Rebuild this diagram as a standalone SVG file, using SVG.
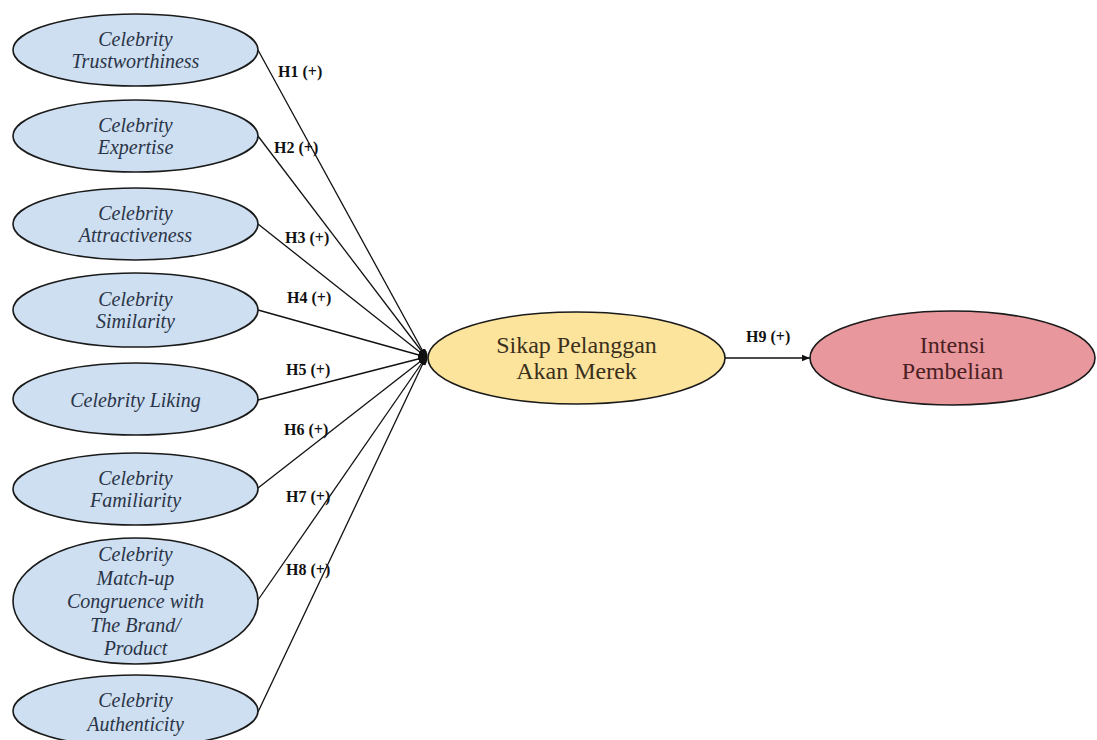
<svg xmlns="http://www.w3.org/2000/svg" width="1097" height="740" viewBox="0 0 1097 740">
<style>
.bl{fill:#cddff1;stroke:#1a1a1a;stroke-width:1.6}
.ye{fill:#fde49c;stroke:#1a1a1a;stroke-width:1.6}
.pk{fill:#e8979c;stroke:#1a1a1a;stroke-width:1.6}
.t{font-family:"Liberation Serif",serif;font-style:italic;font-size:20px;fill:#2b3447;text-anchor:middle}
.c{font-family:"Liberation Serif",serif;font-size:24px;text-anchor:middle}
.lab{font-family:"Liberation Serif",serif;font-weight:bold;font-size:16px;fill:#111}
.ln{stroke:#111;stroke-width:1.3;fill:none}
</style>
<defs>
<marker id="ah" viewBox="0 0 10 10" refX="10" refY="5" markerWidth="8" markerHeight="8" markerUnits="userSpaceOnUse" orient="auto">
<path d="M0,1 L10,5 L0,9 z" fill="#111"/>
</marker>
</defs>
<rect width="1097" height="740" fill="#ffffff"/>
<g id="connectors">
<line class="ln" x1="258" y1="50" x2="426" y2="357" marker-end="url(#ah)"/>
<line class="ln" x1="258" y1="136" x2="426" y2="357" marker-end="url(#ah)"/>
<line class="ln" x1="258" y1="224" x2="426" y2="357" marker-end="url(#ah)"/>
<line class="ln" x1="258" y1="310" x2="426" y2="357" marker-end="url(#ah)"/>
<line class="ln" x1="258" y1="400" x2="426" y2="357" marker-end="url(#ah)"/>
<line class="ln" x1="258" y1="488" x2="426" y2="357" marker-end="url(#ah)"/>
<line class="ln" x1="258" y1="600" x2="426" y2="357" marker-end="url(#ah)"/>
<line class="ln" x1="258" y1="712" x2="426" y2="357" marker-end="url(#ah)"/>
<ellipse cx="424" cy="357" rx="3.5" ry="8" fill="#111"/>
<line class="ln" x1="725" y1="358" x2="810" y2="358" marker-end="url(#ah)"/>
<text class="lab" x="278" y="77">H1 (+)</text>
<text class="lab" x="274" y="153">H2 (+)</text>
<text class="lab" x="285" y="243">H3 (+)</text>
<text class="lab" x="287" y="303">H4 (+)</text>
<text class="lab" x="286" y="375">H5 (+)</text>
<text class="lab" x="284" y="435">H6 (+)</text>
<text class="lab" x="286" y="502">H7 (+)</text>
<text class="lab" x="286" y="575">H8 (+)</text>
<text class="lab" x="746" y="342">H9 (+)</text>
</g>
<g id="n1"><ellipse class="bl" cx="135.5" cy="50" rx="122.5" ry="36"/><text class="t" x="135.5" y="46">Celebrity</text><text class="t" x="135.5" y="68">Trustworthiness</text></g>
<g id="n2"><ellipse class="bl" cx="135.5" cy="136" rx="122.5" ry="36"/><text class="t" x="135.5" y="132">Celebrity</text><text class="t" x="135.5" y="154">Expertise</text></g>
<g id="n3"><ellipse class="bl" cx="135.5" cy="224" rx="122.5" ry="36"/><text class="t" x="135.5" y="220">Celebrity</text><text class="t" x="135.5" y="242">Attractiveness</text></g>
<g id="n4"><ellipse class="bl" cx="135.5" cy="310" rx="122.5" ry="37"/><text class="t" x="135.5" y="306">Celebrity</text><text class="t" x="135.5" y="328">Similarity</text></g>
<g id="n5"><ellipse class="bl" cx="135.5" cy="399" rx="122.5" ry="36"/><text class="t" x="135.5" y="407">Celebrity Liking</text></g>
<g id="n6"><ellipse class="bl" cx="135.5" cy="489" rx="122.5" ry="36"/><text class="t" x="135.5" y="485">Celebrity</text><text class="t" x="135.5" y="507">Familiarity</text></g>
<g id="n7"><ellipse class="bl" cx="135.5" cy="601" rx="122.5" ry="63"/><text class="t" x="135.5" y="561">Celebrity</text><text class="t" x="135.5" y="584.5">Match-up</text><text class="t" x="135.5" y="608">Congruence with</text><text class="t" x="135.5" y="631.5">The Brand/</text><text class="t" x="135.5" y="655">Product</text></g>
<g id="n8"><ellipse class="bl" cx="135.5" cy="711" rx="122.5" ry="36"/><text class="t" x="135.5" y="707">Celebrity</text><text class="t" x="135.5" y="731">Authenticity</text></g>
<g id="n9"><ellipse class="ye" cx="576.5" cy="358" rx="148.5" ry="46"/><text class="c" x="576.5" y="353" fill="#3a301c">Sikap Pelanggan</text><text class="c" x="576.5" y="379" fill="#3a301c">Akan Merek</text></g>
<g id="n10"><ellipse class="pk" cx="952.5" cy="358" rx="142.5" ry="47"/><text class="c" x="952.5" y="353" fill="#4a2023">Intensi</text><text class="c" x="952.5" y="379" fill="#4a2023">Pembelian</text></g>
</svg>
